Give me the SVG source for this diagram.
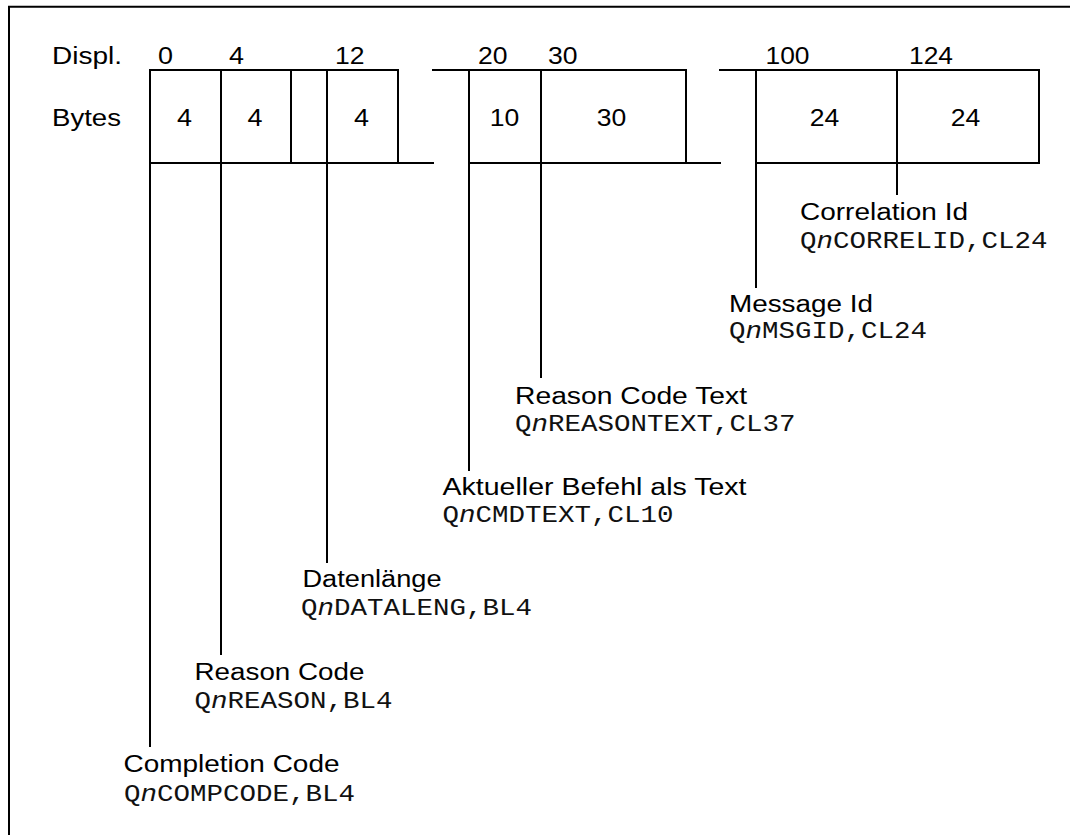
<svg xmlns="http://www.w3.org/2000/svg" width="1070" height="835" viewBox="0 0 1070 835">
<style>
.ln{stroke:#000;stroke-width:2;fill:none;stroke-linecap:square}
.s{font-family:"Liberation Sans",Arial,sans-serif;font-size:23.5px;fill:#000}
.m{font-family:"Liberation Mono","Courier New",monospace;font-size:23px;fill:#111}
.c{text-anchor:middle}
</style>
<rect width="1070" height="835" fill="#fff"/>
<g id="frame">
<path class="ln" d="M9 6.8H1070M9 6.8V835" stroke-linecap="butt"/>
</g>
<g id="header">
<text class="s" x="52" y="64" textLength="70" lengthAdjust="spacingAndGlyphs">Displ.</text>
<text class="s" x="52" y="126" textLength="69" lengthAdjust="spacingAndGlyphs">Bytes</text>
<text class="s" x="158" y="64" textLength="15" lengthAdjust="spacingAndGlyphs">0</text>
<text class="s" x="229" y="64" textLength="15" lengthAdjust="spacingAndGlyphs">4</text>
<text class="s" x="335" y="64" textLength="29.5" lengthAdjust="spacingAndGlyphs">12</text>
<text class="s" x="478" y="64" textLength="29.5" lengthAdjust="spacingAndGlyphs">20</text>
<text class="s" x="548" y="64" textLength="29.5" lengthAdjust="spacingAndGlyphs">30</text>
<text class="s" x="765.5" y="64" textLength="44" lengthAdjust="spacingAndGlyphs">100</text>
<text class="s" x="909" y="64" textLength="44" lengthAdjust="spacingAndGlyphs">124</text>
</g>
<g id="record">
<path class="ln" d="M150 70H398M150 163H433M150 70V163M221 70V163M291 70V163M327 70V163M398 70V163"/>
<path class="ln" d="M433 70H686M469 163H720M469 70V163M541 70V163M686 70V163"/>
<path class="ln" d="M720 70H1039M756 163H1039M756 70V163M897 70V163M1039 70V163"/>
<text class="s c" x="184.5" y="126" textLength="15" lengthAdjust="spacingAndGlyphs">4</text>
<text class="s c" x="255" y="126" textLength="15" lengthAdjust="spacingAndGlyphs">4</text>
<text class="s c" x="361.5" y="126" textLength="15" lengthAdjust="spacingAndGlyphs">4</text>
<text class="s c" x="504.5" y="126" textLength="29.5" lengthAdjust="spacingAndGlyphs">10</text>
<text class="s c" x="611.5" y="126" textLength="29.5" lengthAdjust="spacingAndGlyphs">30</text>
<text class="s c" x="824.5" y="126" textLength="29.5" lengthAdjust="spacingAndGlyphs">24</text>
<text class="s c" x="965.5" y="126" textLength="29.5" lengthAdjust="spacingAndGlyphs">24</text>
</g>
<g id="connectors">
<path class="ln" d="M150 163V746" stroke-linecap="butt"/>
<path class="ln" d="M221 163V654" stroke-linecap="butt"/>
<path class="ln" d="M327 163V562" stroke-linecap="butt"/>
<path class="ln" d="M469 163V470" stroke-linecap="butt"/>
<path class="ln" d="M541 163V377" stroke-linecap="butt"/>
<path class="ln" d="M756 163V287" stroke-linecap="butt"/>
<path class="ln" d="M897 163V194" stroke-linecap="butt"/>
</g>
<g id="completion-code">
<text class="s" x="123.5" y="771.7" textLength="216" lengthAdjust="spacingAndGlyphs">Completion Code</text>
<text class="m" x="124" y="800.7" textLength="231" lengthAdjust="spacingAndGlyphs">Q<tspan font-style="italic">n</tspan>COMPCODE,BL4</text>
</g>
<g id="reason-code">
<text class="s" x="194.5" y="680" textLength="170" lengthAdjust="spacingAndGlyphs">Reason Code</text>
<text class="m" x="194.5" y="708.3" textLength="198" lengthAdjust="spacingAndGlyphs">Q<tspan font-style="italic">n</tspan>REASON,BL4</text>
</g>
<g id="datenlaenge">
<text class="s" x="302.5" y="587" textLength="139" lengthAdjust="spacingAndGlyphs">Datenlänge</text>
<text class="m" x="301" y="614.5" textLength="231" lengthAdjust="spacingAndGlyphs">Q<tspan font-style="italic">n</tspan>DATALENG,BL4</text>
</g>
<g id="cmdtext">
<text class="s" x="442.5" y="495" textLength="304" lengthAdjust="spacingAndGlyphs">Aktueller Befehl als Text</text>
<text class="m" x="442.5" y="522.3" textLength="231" lengthAdjust="spacingAndGlyphs">Q<tspan font-style="italic">n</tspan>CMDTEXT,CL10</text>
</g>
<g id="reasontext">
<text class="s" x="515" y="404.3" textLength="232" lengthAdjust="spacingAndGlyphs">Reason Code Text</text>
<text class="m" x="515" y="430.7" textLength="280.5" lengthAdjust="spacingAndGlyphs">Q<tspan font-style="italic">n</tspan>REASONTEXT,CL37</text>
</g>
<g id="msgid">
<text class="s" x="729" y="311.7" textLength="144" lengthAdjust="spacingAndGlyphs">Message Id</text>
<text class="m" x="729" y="337.5" textLength="198" lengthAdjust="spacingAndGlyphs">Q<tspan font-style="italic">n</tspan>MSGID,CL24</text>
</g>
<g id="correlid">
<text class="s" x="800" y="220" textLength="168" lengthAdjust="spacingAndGlyphs">Correlation Id</text>
<text class="m" x="800" y="247.5" textLength="247.5" lengthAdjust="spacingAndGlyphs">Q<tspan font-style="italic">n</tspan>CORRELID,CL24</text>
</g>
</svg>
